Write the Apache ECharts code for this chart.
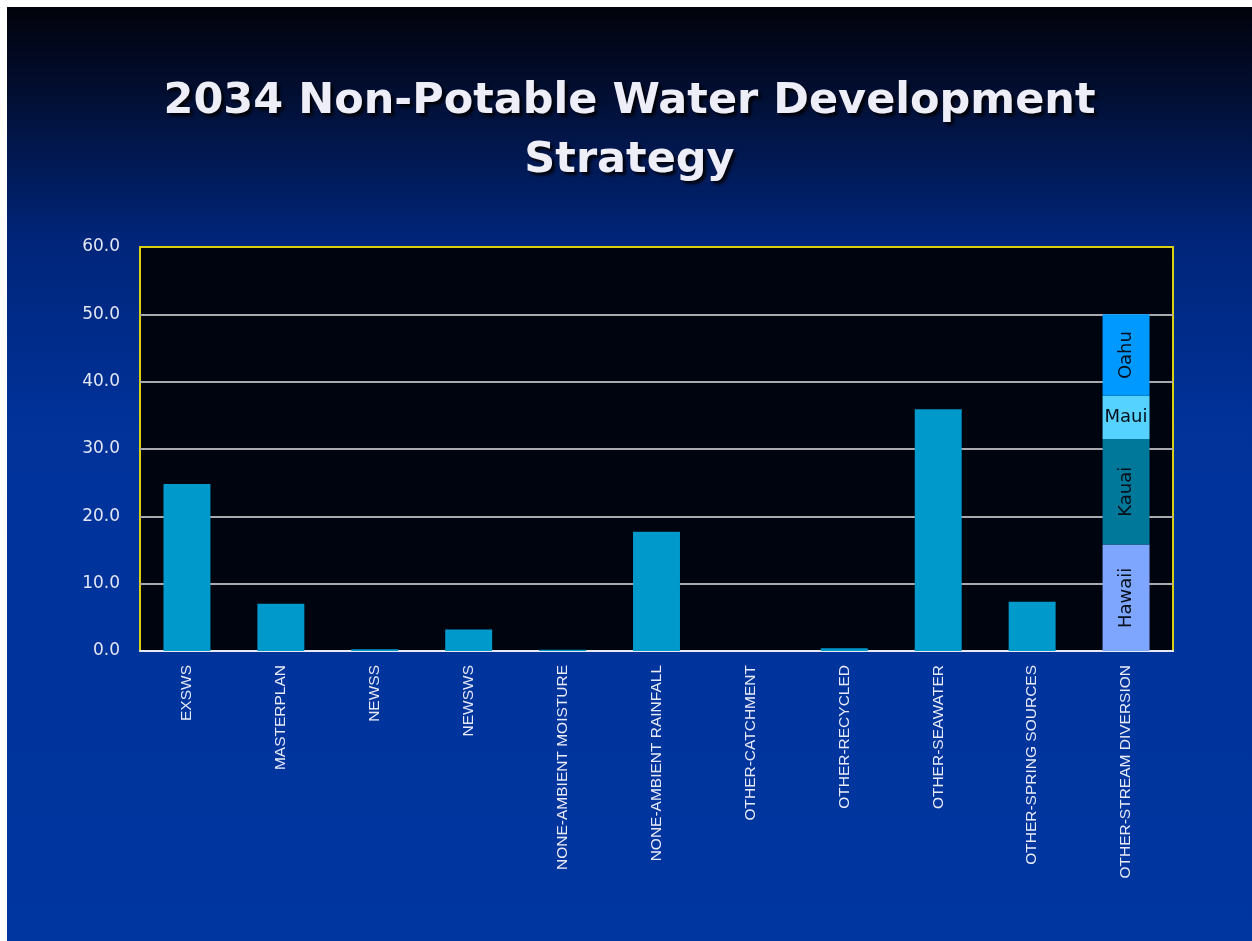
<!DOCTYPE html>
<html>
<head>
<meta charset="utf-8">
<script src="https://cdn.jsdelivr.net/npm/echarts@6/dist/echarts.min.js"></script>
<style>
  html, body { margin: 0; padding: 0; background: #ffffff; }
  #main { position: absolute; left: 7px; top: 7px; width: 1245px; height: 934px; }
</style>
</head>
<body>
<div id="main"></div>
<script>
  // categories along the x axis
  const categories = [
    'EXSWS', 'MASTERPLAN', 'NEWSS', 'NEWSWS', 'NONE-AMBIENT MOISTURE',
    'NONE-AMBIENT RAINFALL', 'OTHER-CATCHMENT', 'OTHER-RECYCLED',
    'OTHER-SEAWATER', 'OTHER-SPRING SOURCES', 'OTHER-STREAM DIVERSION'
  ]
  // single bars (last category is the stacked one)
  const totalValues = [24.8, 7.0, 0.25, 3.2, 0.2, 17.7, 0, 0.4, 35.9, 7.3, null]
  // stacked pieces for OTHER-STREAM DIVERSION
  const hawaii = [null, null, null, null, null, null, null, null, null, null, 15.8]
  const kauai = [null, null, null, null, null, null, null, null, null, null, 15.7]
  const maui = [null, null, null, null, null, null, null, null, null, null, 6.4]
  const oahu = [null, null, null, null, null, null, null, null, null, null, 12.1]
  const yTicks = [0, 10, 20, 30, 40, 50, 60]

  const chart = echarts.init(document.getElementById('main'))

  const textFont = 'DejaVu Sans'

  function islandSeries(name, data, color, rotate) {
    return {
      name: name,
      type: 'bar',
      stack: 'island',
      data: data,
      barWidth: '50%',
      barGap: '-100%',
      itemStyle: { color: color },
      label: {
        show: true,
        position: 'inside',
        formatter: name,
        rotate: rotate,
        color: '#06101c',
        fontFamily: textFont,
        fontSize: 18
      }
    }
  }

  const option = {
    backgroundColor: new echarts.graphic.LinearGradient(0, 0, 0, 1, [
      { offset: 0, color: '#01020b' },
      { offset: 0.06, color: '#020a24' },
      { offset: 0.25, color: '#00257a' },
      { offset: 0.45, color: '#00329a' },
      { offset: 1, color: '#0036a0' }
    ]),
    animation: false,
    title: {
      text: '2034 Non-Potable Water Development\nStrategy',
      left: 'center',
      top: 60,
      textStyle: {
        color: '#eeeef8',
        fontFamily: textFont,
        fontWeight: 'bold',
        fontSize: 43,
        lineHeight: 59,
        textShadowColor: 'rgba(0,0,0,0.85)',
        textShadowBlur: 3,
        textShadowOffsetX: 3,
        textShadowOffsetY: 3
      }
    },
    grid: {
      left: 133,
      right: 79,
      top: 240,
      bottom: 290,
      show: true,
      backgroundColor: '#00040f',
      borderColor: '#d8d010',
      borderWidth: 2
    },
    xAxis: {
      type: 'category',
      data: categories,
      axisLine: { lineStyle: { color: '#e8e8f0', width: 2 } },
      axisTick: { show: false },
      axisLabel: {
        rotate: 90,
        interval: 0,
        margin: 14,
        color: '#e8eaf6',
        fontFamily: 'Liberation Sans',
        fontSize: 15.5
      }
    },
    yAxis: {
      type: 'value',
      min: yTicks[0],
      max: yTicks[yTicks.length - 1],
      interval: yTicks[1] - yTicks[0],
      axisLine: { show: false },
      axisTick: { show: false },
      splitLine: { showMaxLine: false, showMinLine: false, lineStyle: { color: '#a9a9b0', width: 2 } },
      axisLabel: {
        margin: 20,
        color: '#e3e6f3',
        fontFamily: textFont,
        fontSize: 17,
        formatter: (v) => v.toFixed(1)
      }
    },
    series: [
      {
        name: 'Total',
        type: 'bar',
        data: totalValues,
        barWidth: '50%',
        itemStyle: { color: '#0099cc' }
      },
      islandSeries('Hawaii', hawaii, '#7ea6ff', 90),
      islandSeries('Kauai', kauai, '#00789a', 90),
      islandSeries('Maui', maui, '#55d2ff', 0),
      islandSeries('Oahu', oahu, '#0099ff', 90)
    ]
  }

  chart.setOption(option)
</script>
</body>
</html>
